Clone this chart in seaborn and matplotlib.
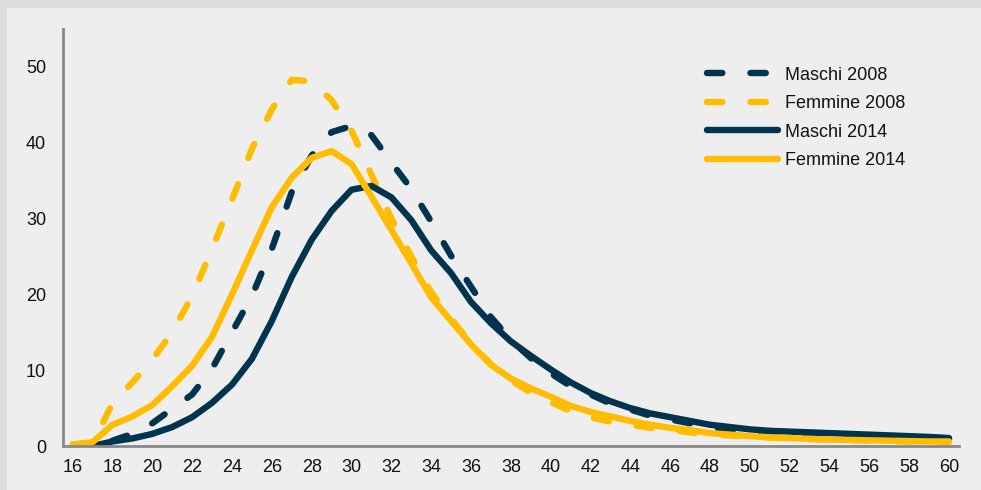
import numpy as np
import pandas as pd
import matplotlib
matplotlib.use("Agg")
import matplotlib.pyplot as plt
from matplotlib.patches import Rectangle
from matplotlib.ticker import MultipleLocator
import seaborn as sns

# Data
ages = list(range(16, 61))
maschi_2008 = [np.nan, np.nan, 0.7, 1.6, 3.0, 4.9, 6.8, 10.2, 15.0, 19.8, 26.0, 33.5, 38.3, 41.4,
               42.2, 41.0, 37.4, 33.9, 29.6, 25.1, 21.0, 17.0, 14.0, 11.6, 9.6, 7.9, 6.8, 5.6,
               4.8, 4.0, 3.5, 3.0, 2.5, 2.2, 1.9, 1.7, 1.5, 1.4, 1.3, 1.2, 1.1, 1.0, 0.9, 0.9, 0.9]
femmine_2008 = [0.2, 0.4, 5.6, 8.4, 11.4, 15.0, 19.8, 26.0, 32.5, 39.2, 44.4, 48.3, 48.1, 45.6,
                41.6, 35.8, 30.0, 25.0, 20.3, 16.8, 13.5, 10.8, 8.7, 7.0, 5.8, 4.6, 3.8, 3.2,
                2.8, 2.4, 2.1, 1.8, 1.5, 1.4, 1.2, 1.1, 1.0, 0.9, 0.85, 0.8, 0.7, 0.65, 0.6, 0.55, 0.5]
maschi_2014 = [np.nan, 0.0, 0.6, 1.0, 1.6, 2.5, 3.8, 5.7, 8.1, 11.5, 16.5, 22.3, 27.2, 31.0,
               33.8, 34.3, 32.8, 29.8, 25.8, 22.8, 19.0, 16.2, 13.8, 11.9, 10.1, 8.4, 7.0, 5.9,
               5.0, 4.3, 3.8, 3.3, 2.8, 2.5, 2.2, 2.0, 1.9, 1.8, 1.7, 1.6, 1.5, 1.4, 1.3, 1.2, 1.05]
femmine_2014 = [0.2, 0.5, 2.8, 3.9, 5.4, 7.9, 10.6, 14.4, 20.0, 25.8, 31.5, 35.4, 38.0, 38.9,
                37.2, 32.9, 28.5, 24.1, 19.6, 16.5, 13.4, 10.7, 8.9, 7.6, 6.5, 5.3, 4.5, 3.9,
                3.3, 2.8, 2.4, 2.1, 1.7, 1.5, 1.3, 1.15, 1.05, 0.95, 0.85, 0.8, 0.75, 0.7, 0.65, 0.6, 0.6]

series = ["Maschi 2008", "Femmine 2008", "Maschi 2014", "Femmine 2014"]
values = [maschi_2008, femmine_2008, maschi_2014, femmine_2014]

navy = "#00334E"
gold = "#FFBC00"
colors = [navy, gold, navy, gold]
dashed = [True, True, False, False]

sns.set_style("white")
plt.rcParams["font.family"] = ["Liberation Sans", "DejaVu Sans"]

fig = plt.figure(figsize=(9.81, 4.9), dpi=100, facecolor="#DCDCDC")
fig.patches.append(Rectangle((7 / 981, 0), 1, (490 - 8) / 490, transform=fig.transFigure,
                             facecolor="#EEEEEE", edgecolor="none", zorder=-10))
ax = fig.add_axes([62.7 / 981, 44 / 490, 896.3 / 981, 417 / 490])
ax.set_zorder(5)
ax.set_facecolor("none")

lw = 4.6
for name, vals, c, d in zip(series, values, colors, dashed):
    df = pd.DataFrame({"age": ages, "val": vals}).dropna()
    kw = dict(linestyle=(0, (2.4, 4.4)), dash_capstyle="round") if d else dict(solid_capstyle="round")
    sns.lineplot(data=df, x="age", y="val", ax=ax, color=c, lw=lw, label=name, **kw)

ax.set_xlim(15.5, 60.5)
ax.set_ylim(0, 55)
ax.set_xlabel("")
ax.set_ylabel("")

ax.xaxis.set_minor_locator(MultipleLocator(1, offset=0.5))
ax.set_xticks(range(16, 61, 2))
ax.set_yticks(range(0, 51, 10))
ax.tick_params(axis="x", which="major", length=0, pad=9, labelsize=13, labelcolor="#111111")
ax.tick_params(axis="x", which="minor", length=4, width=1.5, color="#888888", direction="out")
ax.tick_params(axis="y", which="major", length=4, width=1.5, color="#888888", direction="out",
               pad=8, labelsize=13, labelcolor="#111111")

for s in ["top", "right"]:
    ax.spines[s].set_visible(False)
for s in ["left", "bottom"]:
    ax.spines[s].set_color("#888888")
    ax.spines[s].set_linewidth(2)

leg = ax.legend(loc="upper left", bbox_to_anchor=((707 - 62.7) / 896.3, 0.91), frameon=False,
                borderaxespad=0, borderpad=0, handlelength=3.95, handletextpad=0.35,
                labelspacing=0.64, fontsize=13)
for t in leg.get_texts():
    t.set_color("#111111")

fig.savefig("out.png", dpi=100, facecolor=fig.get_facecolor())
